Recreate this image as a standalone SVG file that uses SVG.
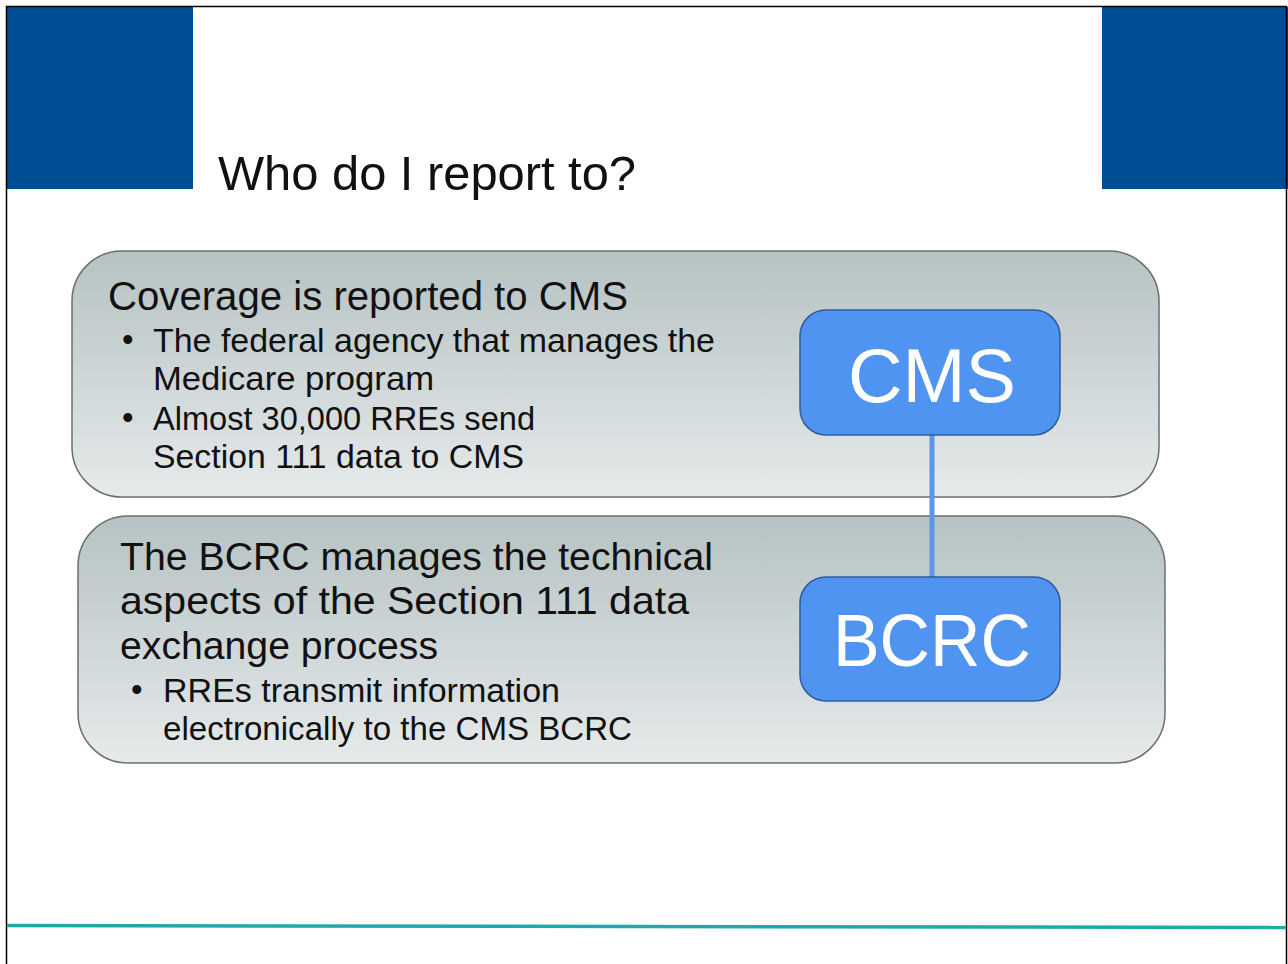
<svg xmlns="http://www.w3.org/2000/svg" width="1288" height="964" viewBox="0 0 1288 964">
  <defs>
    <linearGradient id="panelGrad" x1="0" y1="0" x2="0" y2="1">
      <stop offset="0" stop-color="#b6c2c3"/>
      <stop offset="1" stop-color="#e6eaeb"/>
    </linearGradient>
    <style>
      .txt { font-family: "Liberation Sans", Arial, sans-serif; fill: #111111; }
      .panel { fill: url(#panelGrad); stroke: #6e6e6e; stroke-width: 1.5; }
      .node { fill: #4f94f0; stroke: #2f5c9c; stroke-width: 1.5; }
      .nodeTxt { font-family: "Liberation Sans", Arial, sans-serif; fill: #ffffff; text-anchor: middle; }
      .corner { fill: #014d95; }
    </style>
  </defs>
  <rect x="0" y="0" width="1288" height="964" fill="#ffffff"/>

  <!-- header -->
  <rect class="corner" x="7" y="7" width="186" height="182"/>
  <rect class="corner" x="1102" y="7" width="186" height="182"/>
  <path d="M6.5 964 V6.5 H1286.5 V964" fill="none" stroke="#000000" stroke-width="1.5"/>
  <text class="txt" x="218" y="190" font-size="48" textLength="418" lengthAdjust="spacingAndGlyphs">Who do I report to?</text>

  <!-- footer line -->
  <line x1="7" y1="925.5" x2="1286" y2="927.5" stroke="#1fa9a9" stroke-width="3.5"/>

  <!-- panels -->
  <g id="panel-cms">
    <rect class="panel" x="72" y="251" width="1087" height="246" rx="50" ry="50"/>
    <text class="txt" x="108" y="310" font-size="40" textLength="520" lengthAdjust="spacingAndGlyphs">Coverage is reported to CMS</text>
    <text class="txt" x="122" y="351" font-size="33">•</text>
    <text class="txt" x="153" y="352" font-size="33" textLength="562" lengthAdjust="spacingAndGlyphs">The federal agency that manages the</text>
    <text class="txt" x="153" y="390" font-size="33" textLength="281" lengthAdjust="spacingAndGlyphs">Medicare program</text>
    <text class="txt" x="122" y="429" font-size="33">•</text>
    <text class="txt" x="153" y="430" font-size="33" textLength="382" lengthAdjust="spacingAndGlyphs">Almost 30,000 RREs send</text>
    <text class="txt" x="153" y="468" font-size="33" textLength="371" lengthAdjust="spacingAndGlyphs">Section 111 data to CMS</text>
  </g>

  <g id="panel-bcrc">
    <rect class="panel" x="78" y="516" width="1087" height="247" rx="50" ry="50"/>
    <text class="txt" x="120" y="570" font-size="39" textLength="593" lengthAdjust="spacingAndGlyphs">The BCRC manages the technical</text>
    <text class="txt" x="120" y="614" font-size="39" textLength="569" lengthAdjust="spacingAndGlyphs">aspects of the Section 111 data</text>
    <text class="txt" x="120" y="659" font-size="39" textLength="318" lengthAdjust="spacingAndGlyphs">exchange process</text>
    <text class="txt" x="131" y="701" font-size="33">•</text>
    <text class="txt" x="163" y="702" font-size="33" textLength="397" lengthAdjust="spacingAndGlyphs">RREs transmit information</text>
    <text class="txt" x="163" y="740" font-size="33" textLength="469" lengthAdjust="spacingAndGlyphs">electronically to the CMS BCRC</text>
  </g>

  <!-- connectors -->
  <g id="connectors">
    <line x1="932" y1="435" x2="932" y2="577" stroke="#5b97e8" stroke-width="5"/>
  </g>

  <!-- nodes -->
  <g id="node-cms">
    <rect class="node" x="800" y="310" width="260" height="125" rx="26" ry="26"/>
    <text class="nodeTxt" x="932" y="402" font-size="76" textLength="168" lengthAdjust="spacingAndGlyphs">CMS</text>
  </g>
  <g id="node-bcrc">
    <rect class="node" x="800" y="577" width="260" height="124" rx="26" ry="26"/>
    <text class="nodeTxt" x="932" y="666" font-size="74" textLength="198" lengthAdjust="spacingAndGlyphs">BCRC</text>
  </g>
</svg>
